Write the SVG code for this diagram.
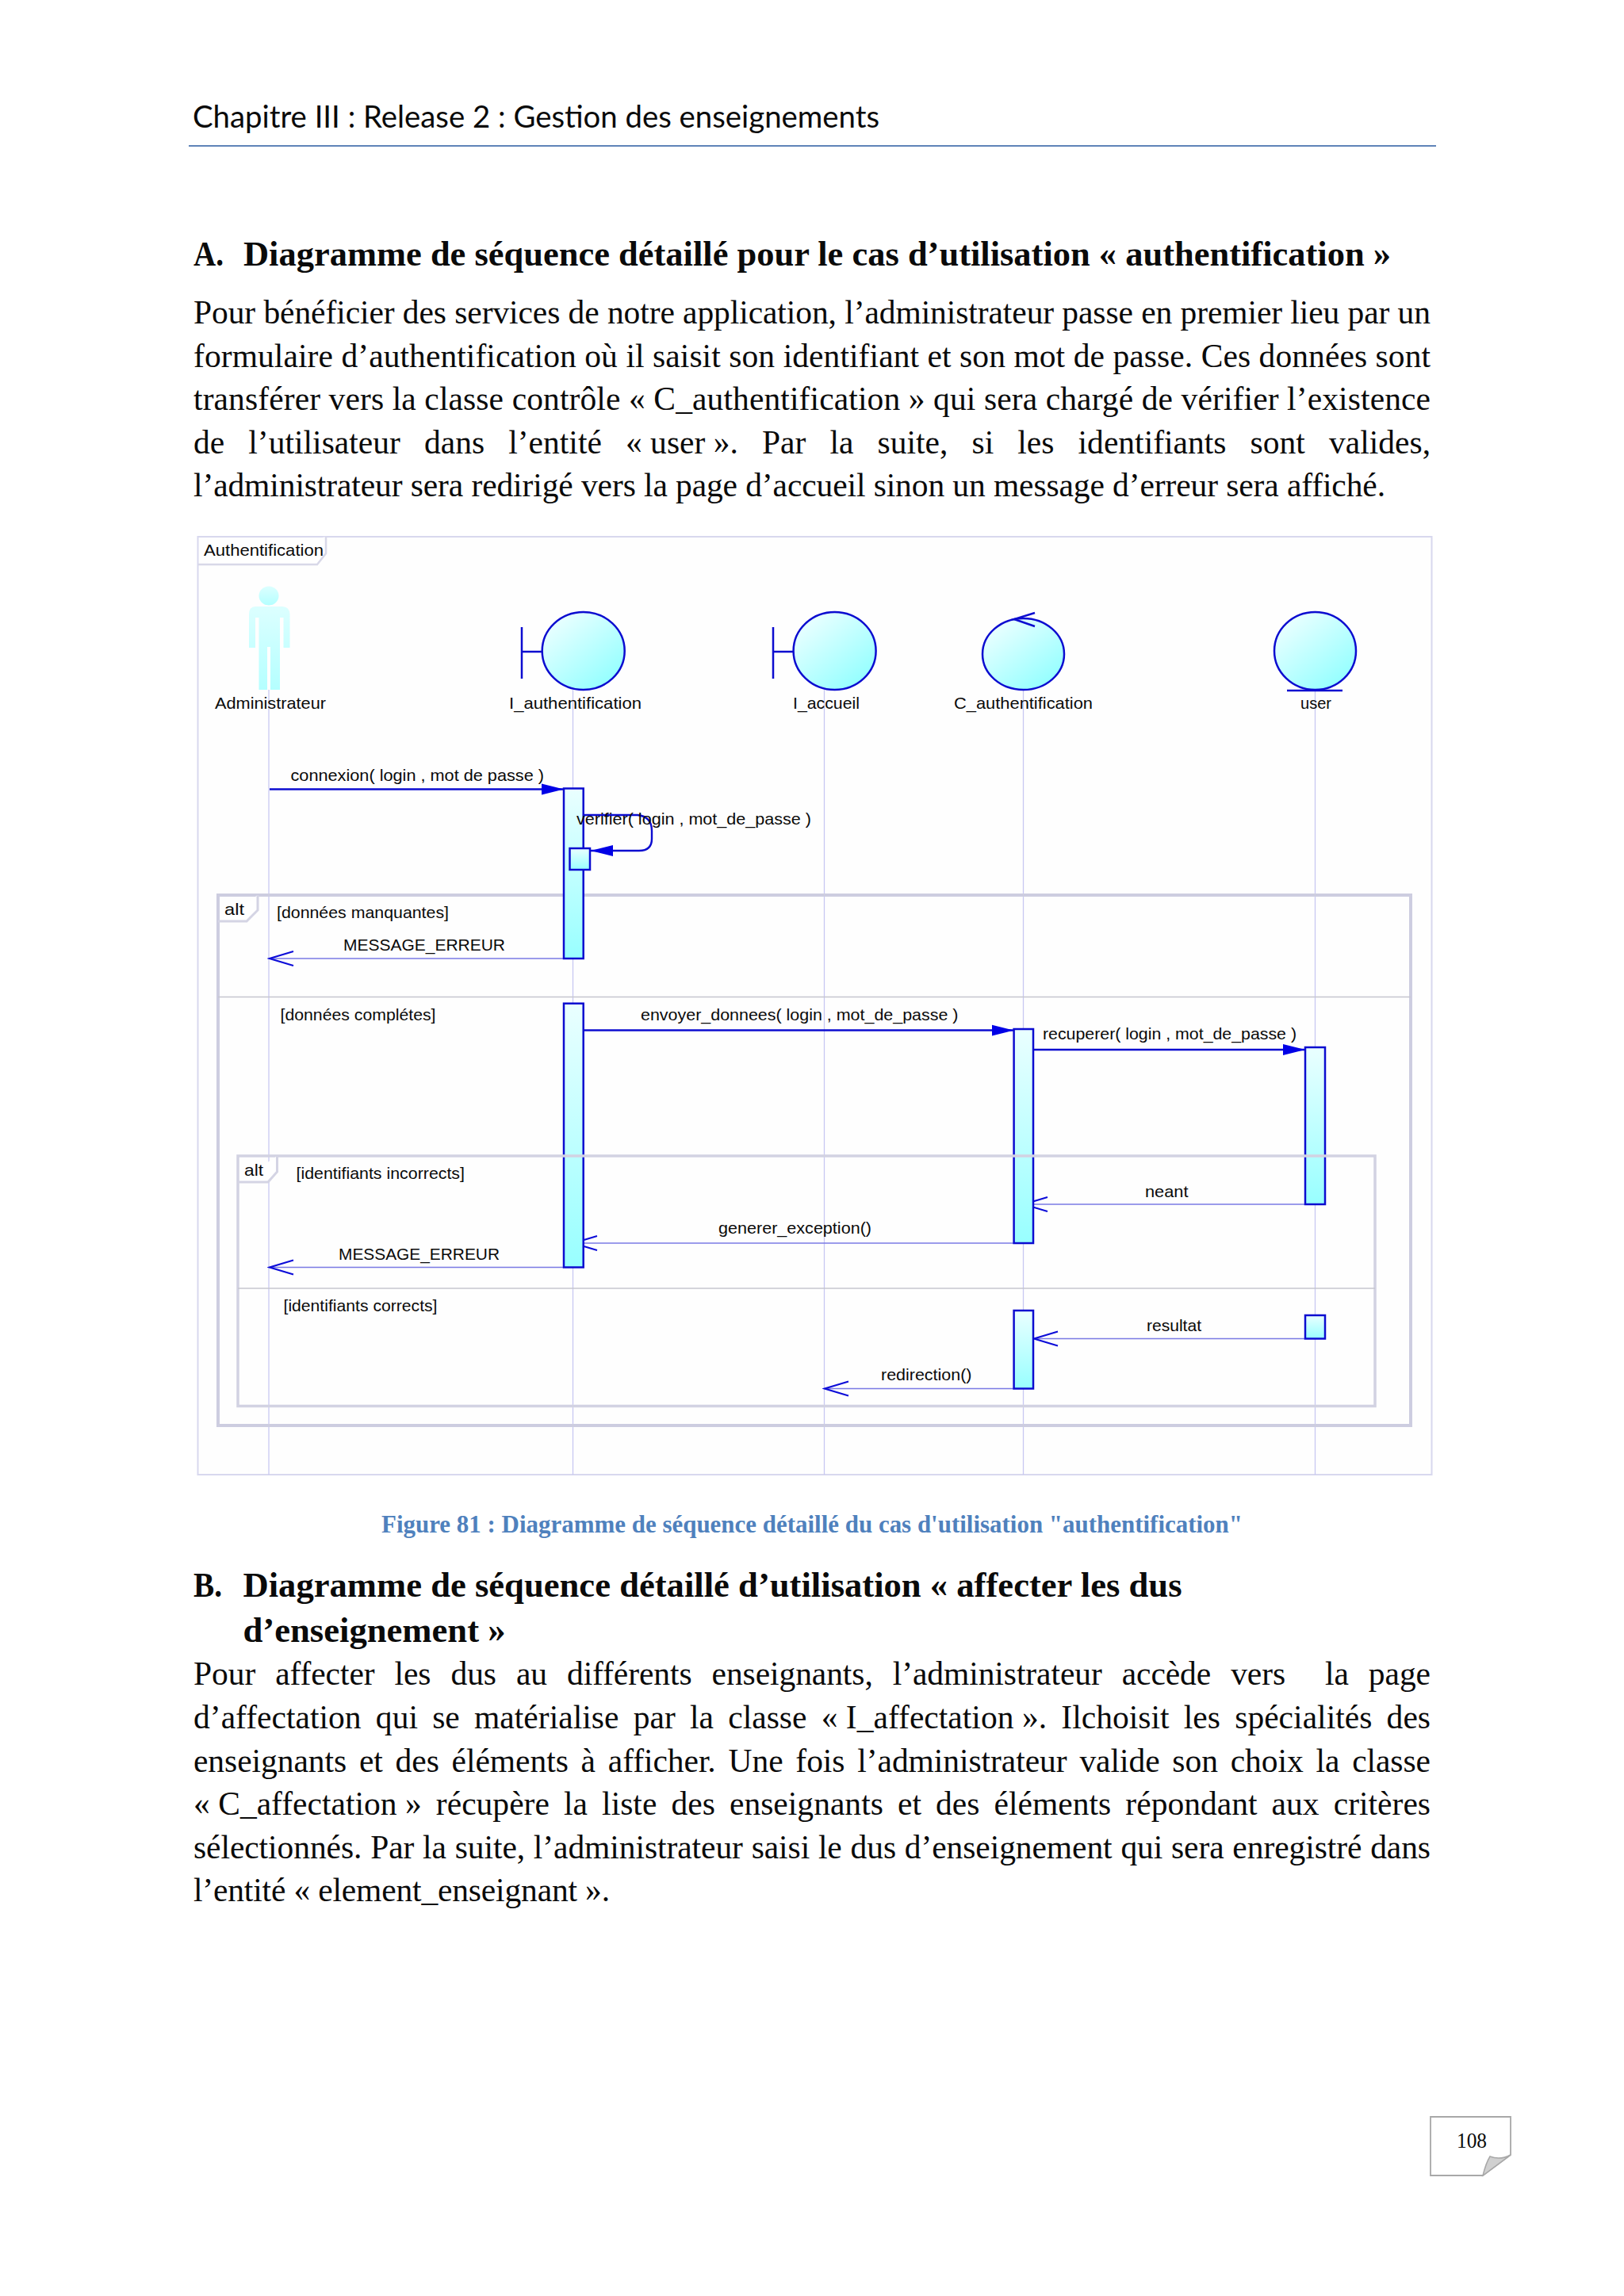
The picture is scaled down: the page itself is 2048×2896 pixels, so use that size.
<svg xmlns="http://www.w3.org/2000/svg" width="2048" height="2896" viewBox="0 0 2048 2896">
<style>
text{fill:#0a0a0a}
.b{font-family:"Liberation Serif","Times New Roman",serif;font-size:41.5px}
.h{font-family:"Liberation Serif","Times New Roman",serif;font-size:44px;font-weight:bold}
.c{font-family:"Liberation Serif","Times New Roman",serif;font-size:31px;font-weight:bold;fill:#4f81bd}
.t{font-family:Lato,"Liberation Sans",sans-serif;font-size:38px}
.d{font-family:"Liberation Sans",Arial,sans-serif;font-size:21px}
.ll{stroke:#c8c8f2;stroke-width:1.3;fill:none}
.icon{fill:url(#gi);stroke:#0c0cd0;stroke-width:2.5}
.bar{stroke:#0c0cd0;stroke-width:2.5;fill:none}
.act{fill:url(#ga);stroke:#0c0cd0;stroke-width:2.5}
.frame{fill:none;stroke:#cdcde0;stroke-width:4}
.div{fill:none;stroke:#c6c6cf;stroke-width:1.6}
.call{fill:none;stroke:#0c0cd0;stroke-width:2.4;marker-end:url(#mf)}
.ret{fill:none;stroke:#7a7ae4;stroke-width:1.4;marker-end:url(#mo)}
</style>
<defs>
<linearGradient id="gi" x1="0.1" y1="0.05" x2="0.85" y2="0.95"><stop offset="0" stop-color="#f0ffff"/><stop offset="1" stop-color="#90ffff"/></linearGradient>
<linearGradient id="ga" x1="0" y1="0" x2="0" y2="1"><stop offset="0" stop-color="#eaffff"/><stop offset="1" stop-color="#98ffff"/></linearGradient>
<linearGradient id="gb" x1="0" y1="0" x2="0" y2="1"><stop offset="0" stop-color="#dcffff"/><stop offset="1" stop-color="#b4ffff"/></linearGradient>
<marker id="mf" markerUnits="userSpaceOnUse" markerWidth="30" markerHeight="16" refX="28" refY="8" orient="auto"><path d="M0 1L28 8L0 15Z" fill="#0000e6"/></marker>
<marker id="mo" markerUnits="userSpaceOnUse" markerWidth="34" markerHeight="24" refX="31" refY="12" orient="auto"><path d="M1 3L31 12L1 21" fill="none" stroke="#0c0cd8" stroke-width="2"/></marker>
</defs>
<rect width="2048" height="2896" fill="#ffffff"/>

<g id="page-header">
<text class="t" x="243" y="161" textLength="866" lengthAdjust="spacingAndGlyphs">Chapitre III : Release 2 : Gestion des enseignements</text>
<line x1="238" y1="184" x2="1811" y2="184" stroke="#5f83b8" stroke-width="2"/>
</g>

<g id="section-a">
<text class="h" x="244" y="335" textLength="38" lengthAdjust="spacingAndGlyphs">A.</text>
<text class="h" x="307" y="335" textLength="1447" lengthAdjust="spacingAndGlyphs">Diagramme de séquence détaillé pour le cas d’utilisation « authentification »</text>
<text class="b" x="244" y="407.5" textLength="1560">Pour bénéficier des services de notre application, l’administrateur passe en premier lieu par un</text>
<text class="b" x="244" y="462.5" textLength="1560">formulaire d’authentification où il saisit son identifiant et son mot de passe. Ces données sont</text>
<text class="b" x="244" y="516.5" textLength="1560">transférer vers la classe contrôle « C_authentification » qui sera chargé de vérifier l’existence</text>
<text class="b" x="244" y="571.5" word-spacing="19.7" textLength="1560">de l’utilisateur dans l’entité <tspan word-spacing="0">« user ».</tspan> Par la suite, si les identifiants sont valides,</text>
<text class="b" x="244" y="625.5" textLength="1503">l’administrateur sera redirigé vers la page d’accueil sinon un message d’erreur sera affiché.</text>
</g>

<g id="diagram-frame">
<rect x="249.5" y="677" width="1556" height="1183" fill="#fefefe" stroke="#d8d8ee" stroke-width="2"/>
<path d="M250 712H400L411 698V677" fill="#ffffff" stroke="#d8d8e8" stroke-width="2.5"/>
<text class="d" x="257" y="701" textLength="151" lengthAdjust="spacingAndGlyphs">Authentification</text>
</g>

<g id="lifelines">
<line class="ll" x1="339" y1="870" x2="339" y2="1860"/>
<line class="ll" x1="722.5" y1="870" x2="722.5" y2="1860"/>
<line class="ll" x1="1039.5" y1="870" x2="1039.5" y2="1860"/>
<line class="ll" x1="1290.5" y1="870" x2="1290.5" y2="1860"/>
<line class="ll" x1="1658.5" y1="870" x2="1658.5" y2="1860"/>
</g>

<g id="frame-alt-outer">
<rect class="frame" x="275" y="1129" width="1504" height="669"/>
<path d="M275 1162H311L325 1148V1129" fill="#ffffff" stroke="#d4d4e4" stroke-width="3"/>
<line class="div" x1="275" y1="1257.5" x2="1779" y2="1257.5"/>
<text class="d" x="283" y="1154" textLength="25" lengthAdjust="spacingAndGlyphs">alt</text>
<text class="d" x="349" y="1158" textLength="217" lengthAdjust="spacingAndGlyphs">[données manquantes]</text>
<text class="d" x="353.5" y="1286.5" textLength="196" lengthAdjust="spacingAndGlyphs">[données complétes]</text>
</g>

<g id="connectors">
<line class="call" x1="340" y1="995.5" x2="711" y2="995.5"/>
<path d="M736 1028H804Q822 1030 822 1048V1058Q822 1073 806 1073H745" class="call"/>
<line class="ret" x1="711" y1="1209" x2="340" y2="1209"/>
<line class="call" x1="736" y1="1299.5" x2="1278.5" y2="1299.5"/>
<line class="call" x1="1303" y1="1324" x2="1646" y2="1324"/>
<line class="ret" x1="1646" y1="1519" x2="1291" y2="1519"/>
<line class="ret" x1="1279" y1="1568" x2="723" y2="1568"/>
<line class="ret" x1="711" y1="1598.5" x2="340" y2="1598.5"/>
<line class="ret" x1="1646" y1="1688.5" x2="1304" y2="1688.5"/>
<line class="ret" x1="1279" y1="1751.5" x2="1040" y2="1751.5"/>
</g>

<g id="node-administrateur">
<ellipse cx="339" cy="751.5" rx="12.5" ry="12" fill="url(#gb)"/>
<path d="M322 765H356Q365 765 365.5 775V817H357.5V779H353V870H341V816H337V870H326.5V779H322V817H314V775Q314 765 322 765Z" fill="url(#gb)"/>
<text class="d" x="271" y="894" textLength="140" lengthAdjust="spacingAndGlyphs">Administrateur</text>
</g>
<g id="node-i-authentification">
<ellipse class="icon" cx="735.7" cy="821" rx="52" ry="49"/>
<path class="bar" d="M658 791V856M658 822H684"/>
<text class="d" x="642" y="894" textLength="167" lengthAdjust="spacingAndGlyphs">I_authentification</text>
</g>
<g id="node-i-accueil">
<ellipse class="icon" cx="1052.6" cy="821" rx="52" ry="49"/>
<path class="bar" d="M975 791V856M975 822H1001"/>
<text class="d" x="1000" y="894" textLength="84" lengthAdjust="spacingAndGlyphs">I_accueil</text>
</g>
<g id="node-c-authentification">
<ellipse class="icon" cx="1290.5" cy="825" rx="51.5" ry="45"/>
<path class="bar" d="M1305 773L1279 781L1305 790"/>
<text class="d" x="1203" y="894" textLength="175" lengthAdjust="spacingAndGlyphs">C_authentification</text>
</g>
<g id="node-user">
<ellipse class="icon" cx="1658.5" cy="821" rx="51.5" ry="49"/>
<path class="bar" d="M1623 871H1693"/>
<text class="d" x="1640" y="894" textLength="39" lengthAdjust="spacingAndGlyphs">user</text>
</g>

<g id="activations">
<rect class="act" x="711" y="994.5" width="24.7" height="214.5"/>
<rect class="act" x="718.5" y="1070" width="25.5" height="27"/>
<rect class="act" x="711" y="1265.7" width="24.7" height="332.8"/>
<rect class="act" x="1278.6" y="1298" width="24.4" height="270"/>
<rect class="act" x="1646" y="1321" width="25" height="198"/>
<rect class="act" x="1278.6" y="1653" width="24.4" height="98.5"/>
<rect class="act" x="1646" y="1659" width="25" height="29.5"/>
</g>

<g id="frame-alt-inner">
<path d="M300 1458H1734V1773.5H300Z" fill="none" stroke="#d2d2e2" stroke-width="3.5"/>
<path d="M300 1491H338L349.5 1478V1458" fill="#ffffff" stroke="#d4d4e4" stroke-width="3"/>
<line class="div" x1="300" y1="1625" x2="1734" y2="1625"/>
<text class="d" x="308" y="1483" textLength="24" lengthAdjust="spacingAndGlyphs">alt</text>
<text class="d" x="373.5" y="1486.5" textLength="212.5" lengthAdjust="spacingAndGlyphs">[identifiants incorrects]</text>
<text class="d" x="357.5" y="1654" textLength="194" lengthAdjust="spacingAndGlyphs">[identifiants corrects]</text>
</g>

<g id="message-labels">
<text class="d" x="366.5" y="985" textLength="319.5" lengthAdjust="spacingAndGlyphs">connexion( login , mot de passe )</text>
<text class="d" x="727" y="1040" textLength="296" lengthAdjust="spacingAndGlyphs">verifier( login , mot_de_passe )</text>
<text class="d" x="433" y="1199" textLength="204" lengthAdjust="spacingAndGlyphs">MESSAGE_ERREUR</text>
<text class="d" x="808" y="1286.5" textLength="400.5" lengthAdjust="spacingAndGlyphs">envoyer_donnees( login , mot_de_passe )</text>
<text class="d" x="1315" y="1311" textLength="320" lengthAdjust="spacingAndGlyphs">recuperer( login , mot_de_passe )</text>
<text class="d" x="1444" y="1509.5" textLength="54.5" lengthAdjust="spacingAndGlyphs">neant</text>
<text class="d" x="906" y="1556" textLength="193" lengthAdjust="spacingAndGlyphs">generer_exception()</text>
<text class="d" x="427" y="1589" textLength="203" lengthAdjust="spacingAndGlyphs">MESSAGE_ERREUR</text>
<text class="d" x="1446" y="1679" textLength="69" lengthAdjust="spacingAndGlyphs">resultat</text>
<text class="d" x="1111" y="1741" textLength="114.5" lengthAdjust="spacingAndGlyphs">redirection()</text>
</g>

<text class="c" x="481" y="1933" textLength="1086" lengthAdjust="spacingAndGlyphs">Figure 81 : Diagramme de séquence détaillé du cas d'utilisation "authentification"</text>

<g id="section-b">
<text class="h" x="244" y="2014" textLength="36" lengthAdjust="spacingAndGlyphs">B.</text>
<text class="h" x="306.5" y="2014" textLength="1184" lengthAdjust="spacingAndGlyphs">Diagramme de séquence détaillé d’utilisation « affecter les dus</text>
<text class="h" x="306.5" y="2070.5" textLength="331" lengthAdjust="spacingAndGlyphs">d’enseignement »</text>
<text class="b" x="244" y="2124.5" word-spacing="14.7" textLength="1560">Pour affecter les dus au différents enseignants, l’administrateur accède vers&#160; la page</text>
<text class="b" x="244" y="2179.5" word-spacing="7.8" textLength="1560">d’affectation qui se matérialise par la classe <tspan word-spacing="0">« I_affectation ».</tspan> Ilchoisit les spécialités des</text>
<text class="b" x="244" y="2234.5" word-spacing="5.5" textLength="1560">enseignants et des éléments à afficher. Une fois l’administrateur valide son choix la classe</text>
<text class="b" x="244" y="2288.5" word-spacing="7.7" textLength="1560"><tspan word-spacing="0">« C_affectation »</tspan> récupère la liste des enseignants et des éléments répondant aux critères</text>
<text class="b" x="244" y="2343.5" word-spacing="0.5" textLength="1560">sélectionnés. Par la suite, l’administrateur saisi le dus d’enseignement qui sera enregistré dans</text>
<text class="b" x="244" y="2398" textLength="525">l’entité « element_enseignant ».</text>
</g>

<g id="page-number">
<path d="M1804 2670H1905V2718L1870 2744H1804Z" fill="#ffffff" stroke="#a8a8a8" stroke-width="1.8"/>
<path d="M1870 2744Q1874 2728 1879 2720Q1892 2725 1905 2718Z" fill="#d0d0d0" stroke="#a8a8a8" stroke-width="1.5"/>
<text x="1837" y="2709" textLength="38" lengthAdjust="spacingAndGlyphs" style="font-family:'Liberation Serif',serif;font-size:27px">108</text>
</g>
</svg>
